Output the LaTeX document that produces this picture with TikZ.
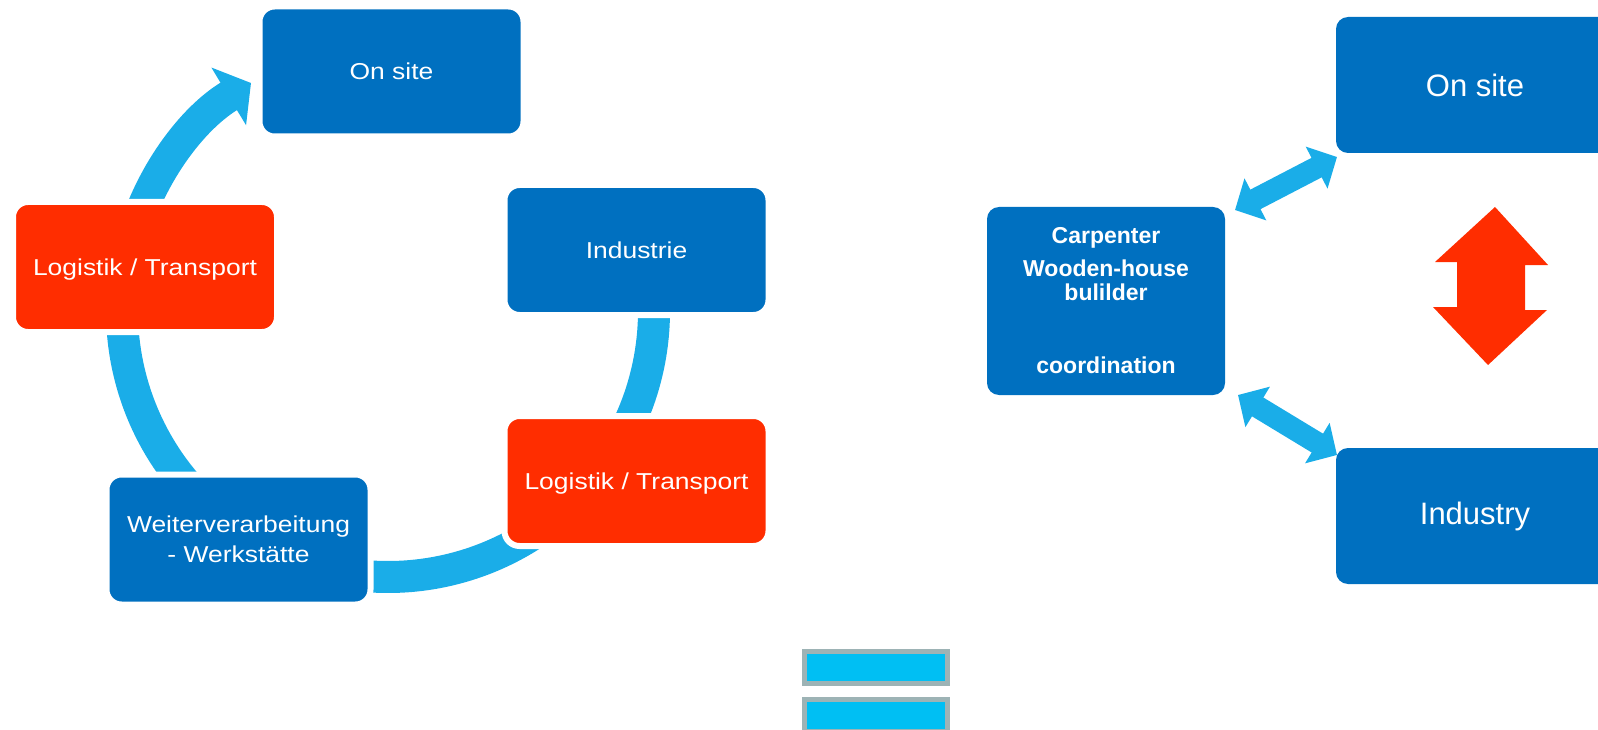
\documentclass[tikz,border=0pt]{standalone}
\usepackage{fontspec}
\setmainfont{Liberation Sans}
\newfontfamily\widesans[FakeStretch=1.15]{Liberation Sans}
\usepackage{tikz}
\usepackage{xcolor}
\usetikzlibrary{arrows.meta, positioning}

\definecolor{smartblue}{HTML}{0070C0}
\definecolor{hotred}{HTML}{FF2D00}
\definecolor{cycblue}{HTML}{1AADE8}
\definecolor{eqfill}{HTML}{00BFF3}
\definecolor{eqrim}{HTML}{9DB3B5}

\tikzset{
  stage/.style={rectangle, rounded corners=15pt, fill=smartblue, draw=white, line width=6pt,
    outer sep=0pt, inner sep=0pt, minimum width=264pt, minimum height=130pt, text depth=0pt,
    text=white, align=center, font=\widesans\fontsize{23}{30}\selectfont},
  hotstage/.style={stage, fill=hotred},
  partner/.style={rectangle, rounded corners=12pt, fill=smartblue, outer sep=0pt, inner sep=0pt,
    text=white, align=center, minimum width=278pt, minimum height=136pt,
    font=\fontsize{31}{36}\selectfont},
  cycarc/.style={draw=cycblue, line width=32pt},
  link/.style={draw=cycblue, line width=22pt,
    {Triangle[length=23pt,width=46pt]}-{Triangle[length=23pt,width=46pt]}},
  eqbar/.style={rectangle, fill=eqfill, draw=eqrim, line width=5pt, outer sep=0pt,
    minimum width=143pt, minimum height=32pt}
}

\begin{document}
\begin{tikzpicture}[x=1pt, y=1pt, node distance=101pt]
\useasboundingbox (0,0) rectangle (1598,-730);
\clip (0,0) rectangle (1598,-730);

% Cycle arcs, the boxes cover their ends
\coordinate (hub) at (388,-311);
\draw[cycarc, -{Triangle[length=26pt,width=66pt]}] (hub) ++(165:266) arc[start angle=165, end angle=121, radius=266];
\draw[cycarc] (hub) ++(5:266) arc[start angle=5, end angle=-28, radius=266];
\draw[cycarc] (hub) ++(310:266) arc[start angle=310, end angle=262, radius=266];
\draw[cycarc] (hub) ++(225:266) arc[start angle=225, end angle=180, radius=266];

% Cycle stages
\node[stage] (onsiteL) at (391.5,-71.5) {On site};
\node[hotstage] (logL) at (145,-267) {Logistik / Transport};
\node[stage] (indus) at (636.5,-250) {Industrie};
\node[hotstage, below=of indus] (logR) {Logistik / Transport};
\node[stage] (weiter) at (238.5,-539.5) {Weiterverarbeitung\\- Werkstätte};

% Coordination side
\node[partner, minimum width=238pt, minimum height=188pt,
  font=\bfseries\fontsize{23}{24}\selectfont] (carp) at (1106,-301)
  {Carpenter\\[9pt]Wooden-house\\bulilder\\[49pt]coordination};
\node[partner] (onR) at (1475,-85) {On site};
\node[partner, below=295pt of onR] (indR) {Industry};

\draw[link] ([shift={(10,-3)}]carp.north east) -- ([shift={(1,-4)}]onR.south west);
\draw[link] ([shift={(13,0)}]carp.south east) -- ([shift={(1,-7)}]indR.north west);

% Red double arrow
\fill[hotred] (1495,-207) -- (1548,-265) -- (1525,-265) -- (1525,-310) -- (1547,-310)
  -- (1488,-365) -- (1433,-307) -- (1457,-307) -- (1457,-262) -- (1435,-262) -- cycle;

% Equals sign
\node[eqbar] (eqtop) at (876,-667.5) {};
\node[eqbar, below=16pt of eqtop] (eqbot) {};
\end{tikzpicture}
\end{document}
